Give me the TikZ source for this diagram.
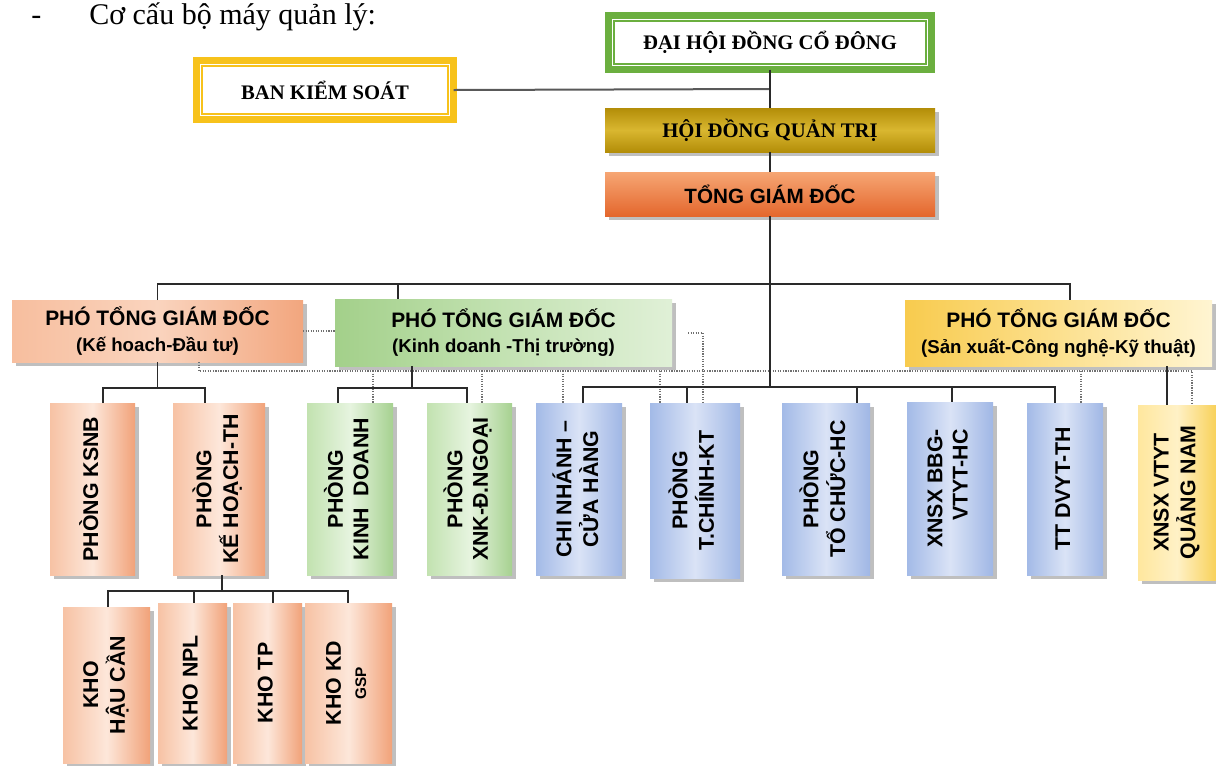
\documentclass[tikz,border=0pt]{standalone}
\usepackage{fontspec}
\setmainfont{Liberation Serif}
\setsansfont{Liberation Sans}
\usepackage{graphicx}
\usetikzlibrary{shadows}
\definecolor{lineK}{HTML}{2A2A2A}
\definecolor{dotK}{HTML}{707070}
\definecolor{bksY}{HTML}{F7C21B}
\definecolor{dhG}{HTML}{6BAF3F}
\definecolor{hdA}{HTML}{B38D08}
\definecolor{hdB}{HTML}{D9B730}
\definecolor{tgA}{HTML}{F6A674}
\definecolor{tgB}{HTML}{E4672D}
\definecolor{pOa}{HTML}{F7BE9E}
\definecolor{pOb}{HTML}{FAD4BE}
\definecolor{pOc}{HTML}{F2A67E}
\definecolor{pGa}{HTML}{A3D08A}
\definecolor{pGb}{HTML}{C3E2B2}
\definecolor{pGc}{HTML}{E0F0D7}
\definecolor{pYa}{HTML}{F8CB4E}
\definecolor{pYb}{HTML}{FCE08E}
\definecolor{pYc}{HTML}{FFF5D2}
\definecolor{oA}{HTML}{F7C2A4}
\definecolor{oB}{HTML}{FDE7DA}
\definecolor{oC}{HTML}{F1A279}
\definecolor{gA}{HTML}{C2E2B0}
\definecolor{gB}{HTML}{E6F4DF}
\definecolor{gC}{HTML}{A6D190}
\definecolor{bA}{HTML}{A3BAE7}
\definecolor{bB}{HTML}{DAE3F6}
\definecolor{bC}{HTML}{A0B7E5}
\definecolor{yA}{HTML}{FFE79E}
\definecolor{yB}{HTML}{FFF1C6}
\definecolor{yC}{HTML}{F8D15A}
\newcommand\rtxt[2][c]{\rotatebox{90}{\begin{tabular}{@{}#1@{}}#2\end{tabular}}}
\begin{document}
\begin{tikzpicture}[x=0.75pt,y=-0.75pt,
  box/.style 2 args={minimum width=#1*0.75pt, minimum height=#2*0.75pt, inner sep=0pt, outer sep=0pt, align=center},
  shad/.style={drop shadow={shadow xshift=3pt, shadow yshift=-3pt, fill=black!45, opacity=0.55}},
  conn/.style={draw=lineK, line width=1.3pt},
  bksline/.style={draw=black!65, line width=1.5pt},
  dots/.style={draw=dotK, densely dotted, line width=0.9pt},
  tnode/.style={anchor=base west, inner sep=0pt, font=\rmfamily\fontsize{22.5}{26}\selectfont},
  frame/.style={draw=#1, line width=5pt, fill=white, font=\rmfamily\bfseries\fontsize{15.5}{18}\selectfont},
  innerline/.style={draw=#1, line width=0.9pt},
  ptg/.style={shad, font=\sffamily\bfseries\fontsize{15.7}{19}\selectfont},
  dept/.style={shad, font=\sffamily\bfseries\fontsize{16}{19}\selectfont},
  deptO/.style={dept, left color=oA, right color=oC, middle color=oB},
  deptG/.style={dept, left color=gA, right color=gC, middle color=gB},
  deptB/.style={dept, left color=bA, right color=bC, middle color=bB},
  deptY/.style={dept, left color=yA, right color=yC, middle color=yB}
]
\useasboundingbox (0,0) rectangle (1216,765);
\fill[white] (0,0) rectangle (1216,765);

% title
\node[tnode] (dash) at (31,24) {-};
\node[tnode] (title) at (89,24) {Cơ cấu bộ máy quản lý:};

% top boxes
\node[frame=dhG, box={323}{54}] (dh) at (770,42.5) {ĐẠI HỘI ĐỒNG CỔ ĐÔNG};
\draw[innerline=dhG] ([shift={(5.5,5.5)}]dh.north west) rectangle ([shift={(-5.5,-5.5)}]dh.south east);
\node[frame=bksY, box={257}{59}] (bks) at (325,90) {BAN KIỂM SOÁT};
\draw[innerline=bksY] ([shift={(5.5,5.5)}]bks.north west) rectangle ([shift={(-5.5,-5.5)}]bks.south east);

\node[shad, box={330}{44}, top color=hdA, bottom color=hdA, middle color=hdB,
      font=\rmfamily\bfseries\fontsize{15.5}{18}\selectfont] (hd) at (770,130) {HỘI ĐỒNG QUẢN TRỊ};
\node[shad, box={330}{44}, top color=tgA, bottom color=tgB,
      font=\sffamily\bfseries\fontsize{15.5}{18}\selectfont] (tg) at (770,194) {TỔNG GIÁM ĐỐC};

% deputies
\node[ptg, box={291}{62}, left color=pOa, right color=pOc, middle color=pOb] (p1) at (157.5,331)
  {PHÓ TỔNG GIÁM ĐỐC\\{\fontsize{14}{19}\selectfont (Kế hoach-Đầu tư)}};
\node[ptg, box={337}{67}, left color=pGa, right color=pGc, middle color=pGb] (p2) at (503.5,332.5)
  {PHÓ TỔNG GIÁM ĐỐC\\{\fontsize{14}{19}\selectfont (Kinh doanh -Thị trường)}};
\node[ptg, box={307}{66}, left color=pYa, right color=pYc, middle color=pYb] (p3) at (1058.5,333)
  {PHÓ TỔNG GIÁM ĐỐC\\{\fontsize{14}{19}\selectfont (Sản xuất-Công nghệ-Kỹ thuật)}};

% departments
\node[deptO, box={85}{172}] (d1) at (92.5,489) {\rtxt{PHÒNG KSNB}};
\node[deptO, box={92}{172}] (d2) at (219,489) {\rtxt{PHÒNG\\KẾ HOẠCH-TH}};
\node[deptG, box={86}{172}] (d3) at (350,489) {\rtxt{PHÒNG\\KINH\ \ DOANH}};
\node[deptG, box={85}{172}] (d4) at (469.5,489) {\rtxt{PHÒNG\\XNK-Đ.NGOẠI}};
\node[deptB, box={86}{172}] (d5) at (579,489) {\rtxt{CHI NHÁNH –\\CỬA HÀNG}};
\node[deptB, box={90}{175}] (d6) at (695,490.5) {\rtxt{PHÒNG\\T.CHÍNH-KT}};
\node[deptB, box={88}{172}] (d7) at (826,489) {\rtxt{PHÒNG\\TỔ CHỨC-HC}};
\node[deptB, box={86}{173}] (d8) at (950,488.5) {\rtxt[r]{XNSX BBG-\\VTYT-HC}};
\node[deptB, box={76}{172}] (d9) at (1065,489) {\rtxt{TT DVYT-TH}};
\node[deptY, box={78}{175}] (d10) at (1177,492.5) {\rtxt{XNSX VTYT\\QUẢNG NAM}};

% stores
\node[deptO, box={87}{156}] (k1) at (106.5,685) {\rtxt{KHO\\HẬU CẦN}};
\node[deptO, box={69}{160}] (k2) at (192.5,683) {\rtxt{KHO NPL}};
\node[deptO, box={69}{160}] (k3) at (267.5,683) {\rtxt{KHO TP}};
\node[deptO, box={87}{160}] (k4) at (348.5,683) {\rtxt{KHO KD\\{\fontsize{11.5}{13}\selectfont GSP}}};

% dotted links
\draw[dots] (p1.east) -- (p1.east -| p2.west);
\coordinate (h0) at (688,333);
\coordinate (h1) at (703,333);
\draw[dots] (h0) -- (h1) -- (h1 |- d6.north);
\coordinate (i0) at (199,371);
\coordinate (i1) at (1192,371);
\draw[dots] (i0 |- p1.south) -- (i0) -- (i1) -- (i1 |- d10.north);
\foreach \xx/\tg in {373/d3,482/d4,563/d5,660/d6,1081/d9}{
  \coordinate (dd) at (\xx,371);
  \draw[dots] (dd) -- (dd |- \tg.north);
}

% solid links
\coordinate (tj) at (770,89);
\draw[bksline] (bks.east) -- (tj);
\draw[conn] (dh.south) -- (hd.north);
\draw[conn] (hd.south) -- (tg.north);
\coordinate (bL) at (157.5,284);
\coordinate (bR) at (1070,284);
\coordinate (b2) at (398,284);
\coordinate (tEnd) at (770,387);
\draw[conn] (tg.south) -- (tEnd);
\draw[conn] (p1.north) -- (bL) -- (bR) -- (bR |- p3.north);
\draw[conn] (b2) -- (b2 |- p2.north);

\coordinate (a0) at (157.5,388);
\coordinate (a1) at (103,388);
\coordinate (a2) at (205,388);
\draw[conn] (p1.south) -- (a0);
\draw[conn] (a1 |- d1.north) -- (a1) -- (a2) -- (a2 |- d2.north);

\coordinate (c0) at (412,388);
\coordinate (c1) at (338,388);
\coordinate (c2) at (467,388);
\draw[conn] (c0 |- p2.south) -- (c0);
\draw[conn] (c1 |- d3.north) -- (c1) -- (c2) -- (c2 |- d4.north);

\coordinate (e1) at (583,387);
\coordinate (e2) at (687,387);
\coordinate (e3) at (857,387);
\coordinate (e4) at (952,387);
\coordinate (e5) at (1055,387);
\draw[conn] (e1 |- d5.north) -- (e1) -- (e5) -- (e5 |- d9.north);
\draw[conn] (e2) -- (e2 |- d6.north);
\draw[conn] (e3) -- (e3 |- d7.north);
\draw[conn] (e4) -- (e4 |- d8.north);

\coordinate (f0) at (1167,380);
\draw[conn] (f0 |- p3.south) -- (f0 |- d10.north);

\coordinate (g0) at (222,591);
\coordinate (g1) at (108,591);
\coordinate (g2) at (194,591);
\coordinate (g3) at (273,591);
\coordinate (g4) at (348,591);
\draw[conn] (g0 |- d2.south) -- (g0);
\draw[conn] (g1 |- k1.north) -- (g1) -- (g4) -- (g4 |- k4.north);
\draw[conn] (g2) -- (g2 |- k2.north);
\draw[conn] (g3) -- (g3 |- k3.north);
\end{tikzpicture}
\end{document}
